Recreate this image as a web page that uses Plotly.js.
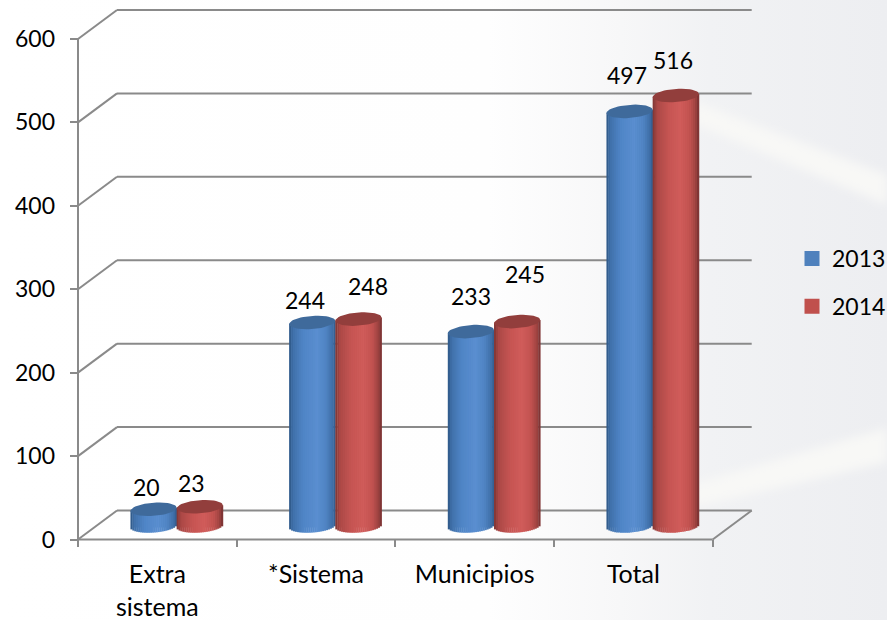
<!DOCTYPE html>
<html><head><meta charset="utf-8">
<script src="https://cdn.plot.ly/plotly-3.0.1.min.js"></script>
<style>html,body{margin:0;padding:0;background:#fff}#c{width:887px;height:620px}</style>
</head><body><div id="c"></div>
<script>
const categories = ["Extra<br>sistema", "*Sistema", "Municipios", "Total"];
const values2013 = [20, 244, 233, 497];
const values2014 = [23, 248, 245, 516];
const yTicks = [0, 100, 200, 300, 400, 500, 600];
const seriesNames = ["2013", "2014"];
const legendColors = ["#4f81bd", "#c0504d"];

// label nudges in px: [dx, up]
const nudge2013 = [[-7,22],[-7,22.5],[0,36],[-3,36.5]];
const nudge2014 = [[-8,24],[10,33],[8,48],[-3,36]];

const W=887,H=620;
const X0=78, Y0=539.5, CAT=158.675, UNIT=0.8342;     // px scale of the frame
const DX=39/CAT, DY=29/UNIT;                         // depth offset of the back wall
const domL=70, domR=760, domT=4, domB=547;
const xr=[(domL-X0)/CAT,(domR-X0)/CAT], yr=[(Y0-domB)/UNIT,(Y0-domT)/UNIT];

const floorY=16.2, midDX=19.3/CAT, barW=46.2/CAT;
const capA=barW/2, capB=6.6/UNIT, tilt=1.6/UNIT;
const stops=[
 [[-1,"#2c5582"],[-0.85,"#3f6fa8"],[-0.4,"#4f85c6"],[0.2,"#5a8ed0"],[0.6,"#4f84c3"],[0.88,"#3f6ea6"],[1,"#30588a"]],
 [[-1,"#7e3432"],[-0.8,"#ab4846"],[-0.3,"#c65553"],[0.2,"#d05c5a"],[0.6,"#c25350"],[0.85,"#a04341"],[1,"#743030"]]
];
const capColors=["#3f6a9b","#923e3c"];
function hex(c){return [1,3,5].map(i=>parseInt(c.slice(i,i+2),16));}
function ramp(s,u){
  for(let i=1;i<s.length;i++) if(u<=s[i][0]){
    const t=(u-s[i-1][0])/(s[i][0]-s[i-1][0]),a=hex(s[i-1][1]),b=hex(s[i][1]);
    return "rgb("+a.map((v,k)=>Math.round(v+(b[k]-v)*t)).join(",")+")";
  }
  return s[s.length-1][1];
}
const traces=[];
const N=24;
[values2013,values2014].forEach((vals,si)=>{
  const cx=vals.map((_,i)=>i+0.5+midDX+(si===0?-barW/2:barW/2));
  traces.push({type:"bar",name:seriesNames[si],legendgroup:seriesNames[si],x:cx,y:vals,base:floorY,
    width:barW*0.8,marker:{color:legendColors[si],line:{color:legendColors[si],width:3}},hoverinfo:"y"});
  for(let k=0;k<N;k++){
    const u0=-1+2*k/N,u=u0+1/N,root=Math.sqrt(1-u*u);
    const base=vals.map(()=>floorY-capB*root+tilt*u);
    traces.push({type:"bar",showlegend:false,hoverinfo:"skip",x:cx,
      y:vals.map((v,i)=>floorY+v+tilt*u-base[i]),base:base,
      offset:u0*barW/2,width:barW/N*1.2,marker:{color:ramp(stops[si],u),line:{width:0}}});
  }
});
[values2013,values2014].forEach((vals,si)=>{
  const xs=[],ys=[];
  vals.forEach((v,i)=>{
    const cx=i+0.5+midDX+(si===0?-barW/2:barW/2);
    for(let a=0;a<=48;a++){
      const t=a/48*2*Math.PI;
      xs.push(cx+capA*Math.cos(t));
      ys.push(floorY+v+capB*Math.sin(t)+tilt*Math.cos(t));
    }
    xs.push(null);ys.push(null);
  });
  traces.push({type:"scatter",mode:"lines",x:xs,y:ys,fill:"toself",fillcolor:capColors[si],
    line:{width:0,color:capColors[si]},showlegend:false,hoverinfo:"skip"});
});

const frame={color:"#8a8a8a",width:2};
const shapes=[];
yTicks.forEach(v=>{
  shapes.push({type:"line",xref:"x",yref:"y",layer:"below",x0:0,y0:v,x1:DX,y1:v+DY,line:frame});
  shapes.push({type:"line",xref:"x",yref:"y",layer:"below",x0:DX,y0:v+DY,x1:4+DX,y1:v+DY,line:frame});
});
shapes.push({type:"line",xref:"x",yref:"y",layer:"below",x0:0,y0:0,x1:0,y1:600,line:frame});
shapes.push({type:"line",xref:"x",yref:"y",layer:"below",x0:0,y0:0,x1:4,y1:0,line:frame});
shapes.push({type:"line",xref:"x",yref:"y",layer:"below",x0:4,y0:0,x1:4+DX,y1:DY,line:frame});

const font={family:"Lato, Carlito, sans-serif",size:23,color:"#000"};
const catFont={family:"Lato, Carlito, sans-serif",size:25,color:"#000"};
const annotations=[];
[[values2013,nudge2013,-1],[values2014,nudge2014,1]].forEach(([vals,nd,sgn])=>{
  vals.forEach((v,i)=>annotations.push({xref:"x",yref:"y",x:i+0.5+midDX+sgn*barW/2,y:floorY+v,
    text:String(v),showarrow:false,xanchor:"center",yanchor:"middle",
    xshift:nd[i][0],yshift:nd[i][1],font:font}));
});

const bg="data:image/svg+xml;utf8,"+encodeURIComponent(
'<svg xmlns="http://www.w3.org/2000/svg" width="887" height="620" viewBox="0 0 887 620">'+
'<defs><linearGradient id="g" x1="0" x2="1" y1="0" y2="0">'+
'<stop offset="0" stop-color="#ffffff"/><stop offset="0.55" stop-color="#fefefe"/><stop offset="0.7" stop-color="#f7f7f8"/><stop offset="0.8" stop-color="#f1f2f4"/><stop offset="1" stop-color="#edeef1"/></linearGradient>'+
'<filter id="b"><feGaussianBlur stdDeviation="5"/></filter></defs>'+
'<rect width="887" height="620" fill="url(#g)"/>'+
'<path d="M690 100 L887 175 L887 205 L690 122 Z" fill="#f8f8f6" filter="url(#b)"/>'+
'<path d="M690 485 L887 428 L887 462 L690 508 Z" fill="#f8f8f6" filter="url(#b)"/>'+
'</svg>');

const layout={
  width:W,height:H,margin:{l:0,r:0,t:0,b:0,autoexpand:false},
  paper_bgcolor:"rgba(0,0,0,0)",plot_bgcolor:"rgba(0,0,0,0)",
  barmode:"overlay",font:font,hovermode:false,
  images:[{source:bg,xref:"paper",yref:"paper",x:0,y:1,sizex:1,sizey:1,sizing:"stretch",layer:"below"}],
  xaxis:{domain:[domL/W,domR/W],range:xr,tickmode:"array",tickvals:[0,1,2,3,4],ticktext:["","","","",""],
    ticks:"inside",ticklen:7.5,tickwidth:2,tickcolor:"#8a8a8a",showgrid:false,zeroline:false,showline:false,fixedrange:true},
  xaxis2:{domain:[domL/W,domR/W],range:xr,overlaying:"x",anchor:"y",side:"bottom",tickmode:"array",
    tickvals:categories.map((_,i)=>i+0.5),ticktext:categories,tickangle:0,ticks:"",ticklabelstandoff:10,
    showgrid:false,zeroline:false,showline:false,fixedrange:true,tickfont:catFont},
  yaxis:{domain:[1-domB/H,1-domT/H],range:yr,tickmode:"array",tickvals:yTicks,ticks:"inside",ticklen:8,tickwidth:2,
    tickcolor:"#8a8a8a",ticklabelstandoff:14,showgrid:false,zeroline:false,showline:false,fixedrange:true,tickfont:font},
  shapes:shapes,annotations:annotations,
  showlegend:true,
  legend:{x:792/W,y:1-237/H,xanchor:"left",yanchor:"top",bgcolor:"rgba(0,0,0,0)",traceorder:"grouped",tracegroupgap:15,
    itemwidth:30,font:font}
};
traces.push({type:"scatter",x:[0.5],y:[null],xaxis:"x2",yaxis:"y",showlegend:false,hoverinfo:"skip",mode:"markers"});
Plotly.newPlot("c",traces,layout,{staticPlot:true,displayModeBar:false});
</script></body></html>
